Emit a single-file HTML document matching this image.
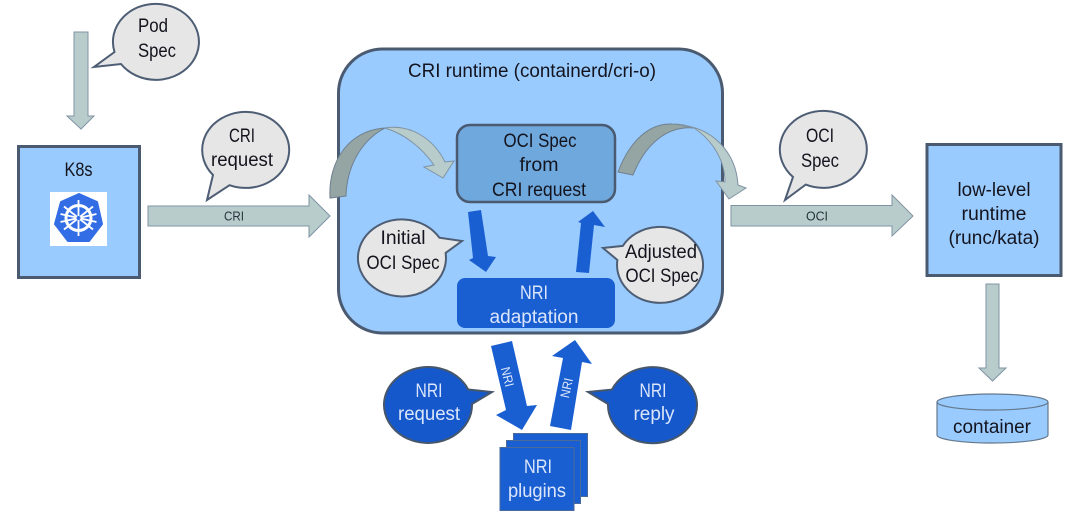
<!DOCTYPE html>
<html>
<head>
<meta charset="utf-8">
<style>
html,body{margin:0;padding:0;background:#fff;width:1080px;height:522px;overflow:hidden}
svg{display:block}
text{font-family:"Liberation Sans",sans-serif;font-size:19px;text-anchor:middle;fill:#14141e}
.s{font-size:13px;fill:#26323a}
.w{fill:#dbe6fa}
.bub{fill:#e6e6e6;stroke:#4d5d74;stroke-width:2;stroke-linejoin:miter}
.nbub{fill:#1558cc;stroke:#46566c;stroke-width:2}
.arr{fill:#b9cccc;stroke:#7f93a3;stroke-width:1}
.dk{fill:#95a5a3;stroke:#6f8090;stroke-width:1}
.box{fill:#99cbff;stroke:#4a5a70;stroke-width:3}
.blue{fill:#1a5fd2}
</style>
</head>
<body>
<svg width="1080" height="522" viewBox="0 0 1080 522" xmlns="http://www.w3.org/2000/svg">
<rect width="1080" height="522" fill="#fff"/>

<!-- Left column -->
<polygon class="arr" points="74,32 88,32 88,116 94,116 81,129 67,116 74,116"/>
<path class="bub" d="M114.500,52 A43,38 0 1 1 121,64 L94,67 Z"/>
<text x="153" y="32" textLength="30" lengthAdjust="spacingAndGlyphs">Pod</text>
<text x="157" y="57" textLength="38" lengthAdjust="spacingAndGlyphs">Spec</text>

<rect class="box" x="18.500" y="146.500" width="121" height="131"/>
<text x="78.500" y="176" textLength="28" lengthAdjust="spacingAndGlyphs">K8s</text>
<rect x="50" y="192" width="57" height="54" fill="#fff"/>
<polygon points="79,194 97,202 102,224 89,241 68,241 55,224 61,202" fill="#326de6" stroke="#326de6" stroke-width="2" stroke-linejoin="round"/>
<g stroke="#fff" fill="none">
<circle cx="78.500" cy="218" r="12.500" stroke-width="3"/>
<g stroke-width="1.800">
<path d="M78.500,200 V236"/>
<path d="M64,206.500 L93,229.500"/>
<path d="M93,206.500 L64,229.500"/>
<path d="M60.500,222 L96.500,214"/>
<path d="M96.500,222 L60.500,214"/>
</g>
</g>
<circle cx="78.500" cy="218" r="2" fill="#326de6"/>

<polygon class="arr" points="148,206 309,206 309,195 330,216 309,237 309,226 148,226"/>
<text class="s" x="234" y="220.500" textLength="20" lengthAdjust="spacingAndGlyphs">CRI</text>
<path class="bub" d="M229.500,185.200 A43.500,38 0 1 0 213,175 L207,200 Z"/>
<text x="242" y="142" textLength="26" lengthAdjust="spacingAndGlyphs">CRI</text>
<text x="242" y="166" textLength="62" lengthAdjust="spacingAndGlyphs">request</text>

<!-- Runtime -->
<rect class="box" x="338.500" y="49" width="384" height="284" rx="44" ry="44"/>
<text x="532" y="77" textLength="248" lengthAdjust="spacingAndGlyphs">CRI runtime (containerd/cri-o)</text>

<rect x="457" y="125" width="158" height="77" rx="13" ry="13" fill="#6fa8dc" stroke="#4a5a70" stroke-width="2.500"/>
<text x="540" y="147" textLength="73" lengthAdjust="spacingAndGlyphs">OCI Spec</text>
<text x="539" y="171" textLength="39" lengthAdjust="spacingAndGlyphs">from</text>
<text x="539" y="196" textLength="94" lengthAdjust="spacingAndGlyphs">CRI request</text>

<rect x="457" y="278" width="158" height="50" rx="8" ry="8" class="blue"/>
<text class="w" x="534" y="299" textLength="28" lengthAdjust="spacingAndGlyphs">NRI</text>
<text class="w" x="534" y="323" textLength="89" lengthAdjust="spacingAndGlyphs">adaptation</text>

<polygon class="blue" points="468,212 481,210 488,256 496,257 486,272 469,260 473,258"/>
<polygon class="blue" points="576,272 589,273 594,225 605,227 593,211 578,222 581,223"/>

<path class="bub" d="M445.600,253 A44,38.500 0 1 1 439.400,237.700 L462,241 Z"/>
<text x="403" y="244" textLength="45" lengthAdjust="spacingAndGlyphs">Initial</text>
<text x="403" y="269" textLength="73" lengthAdjust="spacingAndGlyphs">OCI Spec</text>

<path class="bub" d="M622.800,245.900 A43,38 0 1 1 617.400,260 L603,248 Z"/>
<text x="661" y="258" textLength="72" lengthAdjust="spacingAndGlyphs">Adjusted</text>
<text x="662" y="282" textLength="73" lengthAdjust="spacingAndGlyphs">OCI Spec</text>

<!-- Curved arrow, left -->
<path class="dk" d="M330,198 C328,160 350,130 385,128 C362,140 347,165 346,196 Z"/>
<path class="arr" d="M385,128 C410,124 433,138 445,162 L454,161 L443,178 L424,167 L434,165 C422,148 405,134 385,128 Z"/>

<!-- Curved arrow, right -->
<path class="dk" d="M618,172 C630,140 650,123 672,124 C682,124 688,126 694,128 C672,126 648,138 633,175 Z"/>
<path class="arr" d="M679,125 C712,127 736,152 738,185 L746,188 L729,199 L716,181 L725,182 C725,160 712,140 694,128 C690,127 685,126 679,125 Z"/>

<!-- NRI bottom -->
<polygon class="blue" points="491,346 512,341 527,406 537,405 522,430 496,415 506,410"/>
<text class="s w" x="507" y="381" textLength="20" lengthAdjust="spacingAndGlyphs" transform="rotate(76 507 377)">NRI</text>
<polygon class="blue" points="550,426 571,430 582,362 592,364 575,340 552,356 563,358"/>
<text class="s w" x="567" y="392" textLength="20" lengthAdjust="spacingAndGlyphs" transform="rotate(-78 567 388)">NRI</text>

<path class="nbub" d="M472,404 A44,38 0 1 1 468.200,389.500 L492,392 Z"/>
<text class="w" x="429" y="397" textLength="27" lengthAdjust="spacingAndGlyphs">NRI</text>
<text class="w" x="429" y="420" textLength="62" lengthAdjust="spacingAndGlyphs">request</text>

<path class="nbub" d="M611.900,389.600 A44.500,38 0 1 1 608,404 L588,392 Z"/>
<text class="w" x="653" y="397" textLength="27" lengthAdjust="spacingAndGlyphs">NRI</text>
<text class="w" x="654" y="420" textLength="41" lengthAdjust="spacingAndGlyphs">reply</text>

<rect x="513.500" y="433.500" width="74" height="63" class="blue" stroke="#4a6a9a"/>
<rect x="506.500" y="440.500" width="74" height="63" class="blue" stroke="#4a6a9a"/>
<rect x="500" y="447.500" width="74" height="63" class="blue" stroke="#4a6a9a"/>
<text class="w" x="538" y="473" textLength="28" lengthAdjust="spacingAndGlyphs">NRI</text>
<text class="w" x="537" y="497" textLength="58" lengthAdjust="spacingAndGlyphs">plugins</text>

<!-- Right column -->
<polygon class="arr" points="731,205.500 892,205.500 892,195 913,216 892,236 892,226 731,226"/>
<text class="s" x="817" y="220.500" textLength="22" lengthAdjust="spacingAndGlyphs">OCI</text>
<path class="bub" d="M805.700,184.600 A43.500,38.500 0 1 0 793,177 L785,200 Z"/>
<text x="820" y="142" textLength="28" lengthAdjust="spacingAndGlyphs">OCI</text>
<text x="820" y="167" textLength="38" lengthAdjust="spacingAndGlyphs">Spec</text>

<rect class="box" x="927" y="144.500" width="134" height="131"/>
<text x="994" y="196" textLength="73" lengthAdjust="spacingAndGlyphs">low-level</text>
<text x="994" y="220" textLength="65" lengthAdjust="spacingAndGlyphs">runtime</text>
<text x="994" y="244" textLength="91" lengthAdjust="spacingAndGlyphs">(runc/kata)</text>

<polygon class="arr" points="986,284 999,284 999,368 1006,368 992.500,381 979,368 986,368"/>

<path d="M937,402 A55.500,8 0 0 1 1048,402 V435 A55.500,8 0 0 1 937,435 Z" fill="#99cbff" stroke="#64788c" stroke-width="1.200"/>
<path d="M937,402 A55.500,8 0 0 0 1048,402" fill="none" stroke="#64788c" stroke-width="1.200"/>
<text x="992" y="433" textLength="78" lengthAdjust="spacingAndGlyphs">container</text>
</svg>
</body>
</html>
